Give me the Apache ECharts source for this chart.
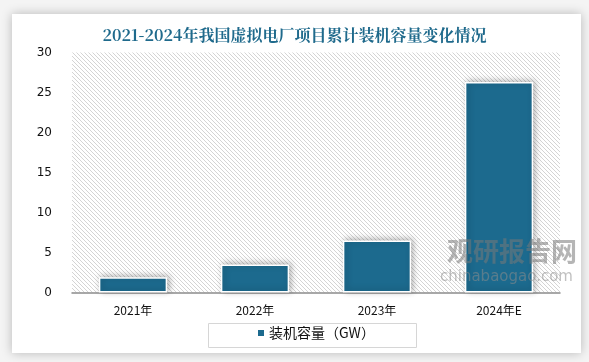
<!DOCTYPE html>
<html><head><meta charset="utf-8">
<script src="https://cdn.jsdelivr.net/npm/echarts@6/dist/echarts.min.js"></script>
<style>html,body{margin:0;padding:0;background:#fff}#c{width:589px;height:362px}</style>
</head><body><div id="c"></div>
<script>
const categories = ['2021年', '2022年', '2023年', '2024年E'];
const capacity = [1.9, 3.5, 6.5, 26.3];
const seriesName = '装机容量（GW）';
const titleText = '2021-2024年我国虚拟电厂项目累计装机容量变化情况';

// hatch pattern ("\" direction)
const pc = document.createElement('canvas');
pc.width = 4; pc.height = 4;
const px = pc.getContext('2d');
px.fillStyle = '#ffffff'; px.fillRect(0,0,4,4);
px.fillStyle = '#d4d4d4';
for (let i = 0; i < 4; i++) { px.fillRect(i, i, 1, 1); }

const chart = echarts.init(document.getElementById('c'), null, {renderer:'canvas'});
chart.setOption({
  backgroundColor: '#f4f4f4',
  graphic: [
    {type:'rect', shape:{x:12,y:14,width:569,height:339}, style:{fill:'#ffffff', shadowBlur:10, shadowColor:'rgba(0,0,0,0.25)'}, z:-10, silent:true},
    {type:'rect', shape:{x:208.5,y:323.5,width:208,height:24}, style:{fill:'none', stroke:'#d6d6d6', lineWidth:1}, silent:true},
    {type:'text', left:447, top:238, style:{text:'观研报告网', font:'bold 26px "Noto Sans CJK SC"', fill:'rgba(120,120,120,0.55)'}, z:10},
    {type:'text', left:440, top:270, style:{text:'chinabaogao.com', font:'15px "DejaVu Sans"', fill:'rgba(140,140,140,0.55)'}, z:10}
  ],
  title: {
    text: titleText, left: 'center', top: 22,
    textStyle: {color:'#1f6a8c', fontSize:16, fontWeight:'bold', fontFamily:'"Noto Serif CJK SC","Noto Sans CJK SC",serif'}
  },
  grid: {left:72, right:29, top:52.5, bottom:69.5, show:true, borderWidth:0,
    backgroundColor:{image:pc, repeat:'repeat'}},
  legend: {
    left: 256, top: 326, itemWidth:8, itemHeight:8, icon:'rect', itemGap:0,
    padding:0,
    textStyle:{fontSize:14, color:'#111', fontFamily:'"Noto Sans CJK SC"', padding:[0,0,0,-1]},
    data:[seriesName]
  },
  xAxis: {
    type:'category', data: categories,
    axisLine:{lineStyle:{color:'#8c8c8c', width:1.5}},
    axisTick:{show:false},
    axisLabel:{color:'#111', fontSize:12, margin:12, fontFamily:'"Noto Sans CJK SC"'}
  },
  yAxis: {
    type:'value', min:0, max:30, interval:5,
    splitLine:{show:false}, axisLine:{show:false}, axisTick:{show:false},
    axisLabel:{color:'#111', fontSize:12, margin:20, fontFamily:'"DejaVu Sans"'}
  },
  series: [{
    name: seriesName, type:'bar', data: capacity, barWidth:'56%',
    itemStyle:{color:'#1c6a8e', borderColor:'#ffffff', borderWidth:1.5,
      shadowBlur:6, shadowColor:'rgba(0,0,0,0.3)', shadowOffsetX:2, shadowOffsetY:-1}
  }]
});
</script></body></html>
